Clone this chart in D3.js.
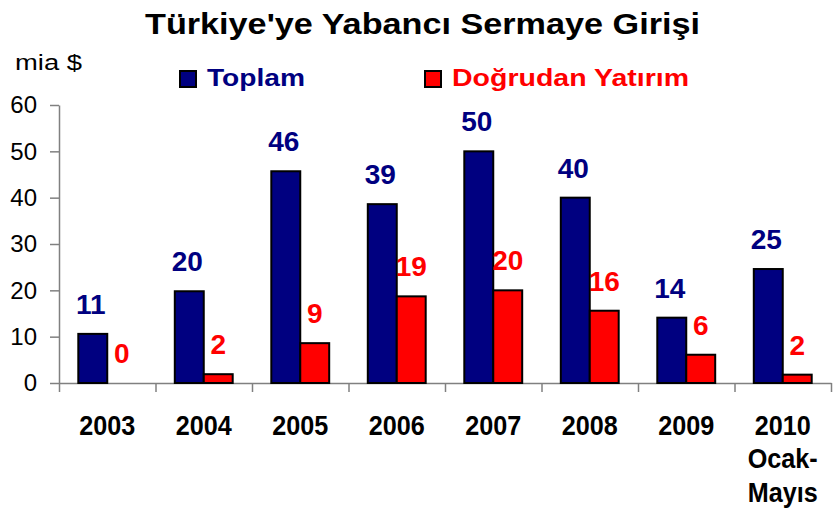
<!DOCTYPE html>
<html>
<head>
<meta charset="utf-8">
<script src="https://cdn.jsdelivr.net/npm/d3@7"></script>
<style>
  body { margin: 0; background: #fff; }
  svg { display: block; font-family: "Liberation Sans", Arial, sans-serif; }
  .axis path, .axis line { stroke: #808080; stroke-width: 1.5; }
</style>
</head>
<body>
<div id="container"></div>
<script>
// chart data
var years = ["2003", "2004", "2005", "2006", "2007", "2008", "2009", "2010"];
var yearLabels = [["2003"], ["2004"], ["2005"], ["2006"], ["2007"], ["2008"], ["2009"], ["2010", "Ocak-", "Mayıs"]];
var seriesNames = ["Toplam", "Doğrudan Yatırım"];
var toplam = [10.6, 19.8, 45.7, 38.6, 50.0, 40.0, 14.1, 24.6];
var dogrudan = [0, 1.9, 8.6, 18.7, 20.0, 15.6, 6.1, 1.8];
var yTicks = [0, 10, 20, 30, 40, 50, 60];

var colors = ["#000080", "#ff0000"];

function makeChart() {
	var w = 837, h = 513;
	var plotLeft = 59, plotRight = 831, plotTop = 105, plotBottom = 383;

	var svg = d3.select("#container")
		.append("svg")
		.attr("width", w)
		.attr("height", h);

	var x0 = d3.scaleBand().domain(years).range([plotLeft, plotRight]);
	var bw = x0.bandwidth();
	var x1 = d3.scaleBand().domain(seriesNames).range([bw * 0.2, bw * 0.8]);
	var y = d3.scaleLinear().domain([0, 60]).range([plotBottom, plotTop]);

	// y axis
	svg.append("g")
		.attr("class", "axis")
		.attr("transform", "translate(" + plotLeft + ",0)")
		.call(d3.axisLeft(y).tickValues(yTicks).tickSize(9).tickSizeOuter(0).tickPadding(13))
		.call(function(g) {
			g.selectAll("text")
				.attr("font-size", "24px")
				.attr("font-family", "Liberation Sans, Arial, sans-serif")
				.attr("fill", "#000");
		});

	// x axis line, ticks sit on the category boundaries
	var xb = d3.scaleLinear().domain([0, years.length]).range([plotLeft, plotRight]);
	svg.append("g")
		.attr("class", "axis")
		.attr("transform", "translate(0," + plotBottom + ")")
		.call(d3.axisBottom(xb).ticks(years.length).tickSize(9).tickSizeOuter(0).tickFormat(""));

	// bars
	var groups = svg.selectAll(".year")
		.data(years)
		.enter()
		.append("g")
		.attr("class", "year")
		.attr("transform", function(d) { return "translate(" + x0(d) + ",0)"; });

	function rows(d, i) {
		return [{s: seriesNames[0], v: toplam[i], c: 0}, {s: seriesNames[1], v: dogrudan[i], c: 1}];
	}

	groups.selectAll("rect")
		.data(rows)
		.enter()
		.append("rect")
		.attr("x", function(d) { return x1(d.s); })
		.attr("y", function(d) { return y(d.v); })
		.attr("width", x1.bandwidth())
		.attr("height", function(d) { return y(0) - y(d.v); })
		.attr("fill", function(d) { return colors[d.c]; })
		.attr("stroke", function(d) { return d.v > 0 ? "#000" : "none"; })
		.attr("stroke-width", 2);

	// value labels
	groups.selectAll("text.val")
		.data(rows)
		.enter()
		.append("text")
		.attr("class", "val")
		.text(function(d) { return d3.format(".0f")(d.v); })
		.attr("text-anchor", "middle")
		.attr("x", function(d) { return x1(d.s) + x1.bandwidth() / 2 - (d.c === 0 ? 2 : 0); })
		.attr("y", function(d) { return y(d.v) - 20; })
		.attr("font-size", "28px")
		.attr("font-weight", "bold")
		.attr("fill", function(d) { return colors[d.c]; });

	// category labels
	var xl = svg.selectAll(".xlab")
		.data(years)
		.enter()
		.append("text")
		.attr("class", "xlab")
		.attr("text-anchor", "middle")
		.attr("font-size", "28px")
		.attr("font-weight", "bold")
		.attr("fill", "#000")
		.attr("transform", function(d) { return "translate(" + (x0(d) + bw / 2) + ",435) scale(0.9,1)"; });

	xl.selectAll("tspan")
		.data(function(d, i) { return yearLabels[i]; })
		.enter()
		.append("tspan")
		.attr("x", 0)
		.attr("y", function(d, i) { return i * 33.5; })
		.text(function(d) { return d; });

	// title
	svg.append("text")
		.text("Türkiye'ye Yabancı Sermaye Girişi")
		.attr("x", 422.5)
		.attr("y", 34)
		.attr("text-anchor", "middle")
		.attr("font-size", "29px")
		.attr("font-weight", "bold")
		.attr("textLength", 555)
		.attr("lengthAdjust", "spacingAndGlyphs")
		.attr("fill", "#000");

	// unit
	svg.append("text")
		.text("mia $")
		.attr("x", 15)
		.attr("y", 70)
		.attr("font-size", "22px")
		.attr("textLength", 67)
		.attr("lengthAdjust", "spacingAndGlyphs")
		.attr("fill", "#000");

	// legend
	var legendX = [180, 425];
	var legendW = [98, 237];
	seriesNames.forEach(function(name, i) {
		svg.append("rect")
			.attr("x", legendX[i])
			.attr("y", 71)
			.attr("width", 16)
			.attr("height", 16)
			.attr("fill", colors[i])
			.attr("stroke", "#000")
			.attr("stroke-width", 2);
		svg.append("text")
			.text(name)
			.attr("x", legendX[i] + 27)
			.attr("y", 86)
			.attr("font-size", "24px")
			.attr("font-weight", "bold")
			.attr("textLength", legendW[i])
			.attr("lengthAdjust", "spacingAndGlyphs")
			.attr("fill", colors[i]);
	});
}

makeChart();
</script>
</body>
</html>
